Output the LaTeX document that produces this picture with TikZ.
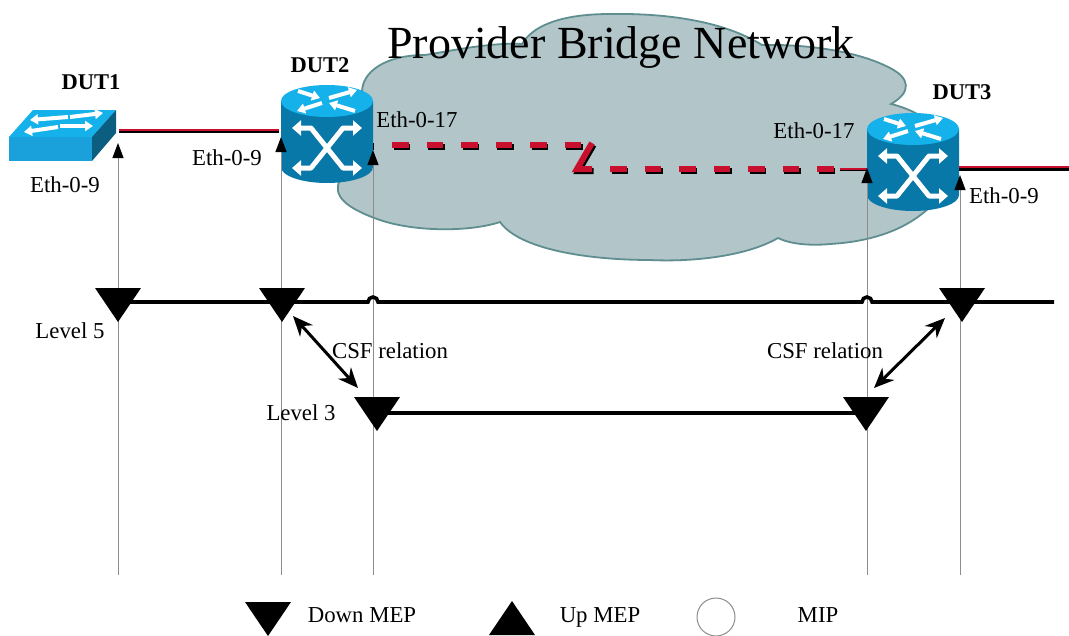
\documentclass[tikz,border=0pt]{standalone}
\usepackage{fontspec}
\setmainfont{Liberation Serif}
\usetikzlibrary{arrows.meta,calc}
\definecolor{cloudfill}{HTML}{B2C5C9}
\definecolor{cloudline}{HTML}{5F8E90}
\definecolor{linkred}{HTML}{C8102E}
\definecolor{devtop}{HTML}{14B1EA}
\definecolor{devface}{HTML}{1AA0DA}
\definecolor{devbody}{HTML}{0878A8}
\definecolor{devside}{HTML}{0B5E80}
\definecolor{vline}{HTML}{8C8C8C}
\tikzset{
  x=1pt,y=-1pt,
  lbl/.style={font=\fontsize{22.8}{26}\selectfont,inner sep=0pt},
  boldlbl/.style={font=\fontsize{22.5}{26}\selectfont\bfseries,inner sep=0pt},
  drop/.style={draw=vline,line width=1pt,-{Triangle[length=15pt,width=11pt,color=black]}},
  linkb/.style={draw=black,line width=3pt},
  linkr/.style={draw=linkred,line width=2.4pt},
  dashb/.style={draw=black,line width=6.5pt,dash pattern=on 16.5pt off 18pt},
  dashr/.style={draw=linkred,line width=6.5pt,dash pattern=on 16.5pt off 18pt},
  level/.style={draw=black,line width=3.6pt},
  csf/.style={draw=black,line width=3pt,{Stealth[length=20pt,width=17pt]}-{Stealth[length=20pt,width=17pt]}},
  wht/.style={draw=white,line width=5pt,-{Triangle[length=9pt,width=15pt]}},
  whts/.style={draw=white,line width=4pt,-{Triangle[length=8pt,width=10pt]}},
  router/.pic={
    \fill[devbody] (-46,0) -- (-46,66) arc[start angle=180,end angle=360,x radius=46pt,y radius=16pt] -- (46,0) -- cycle;
    \fill[devtop] (0,0) ellipse[x radius=46pt,y radius=16pt];
    \draw[whts] (-29,-10) -- (-7,-3);
    \draw[whts] (28,10) -- (2,2);
    \draw[whts] (2,-3) -- (30,-11);
    \draw[whts] (-5,2) -- (-30,10);
    \draw[wht,line join=bevel] (0,47) -- (16,27) -- (35,27);
    \draw[wht,line join=bevel] (0,47) -- (-16,27) -- (-35,27);
    \draw[wht,line join=bevel] (0,47) -- (16,67) -- (35,67);
    \draw[wht,line join=bevel] (0,47) -- (-16,67) -- (-35,67);
  },
  downtri/.pic={\fill[black] (-23,-14) -- (23,-14) -- (0,20) -- cycle;},
  uptri/.pic={\fill[black] (-23,17) -- (23,17) -- (0,-17) -- cycle;},
}
\begin{document}
\begin{tikzpicture}
\useasboundingbox (0,0) rectangle (1069,635);
\fill[white] (0,0) rectangle (1069,635);

% cloud
\draw[fill=cloudfill,draw=cloudline,line width=1.8pt]
  (362,92) .. controls (362,72) and (385,55) .. (425,55)
  .. controls (445,52) and (490,42) .. (522,44)
  .. controls (535,22) and (570,14) .. (610,14)
  .. controls (670,13) and (725,22) .. (762,45)
  .. controls (810,44) and (860,52) .. (890,68)
  .. controls (910,78) and (912,92) .. (891,104)
  .. controls (925,112) and (965,140) .. (950,180)
  .. controls (935,210) and (900,240) .. (830,244)
  .. controls (810,246) and (790,244) .. (778,238)
  .. controls (745,257) and (690,262) .. (650,260)
  .. controls (590,260) and (520,250) .. (500,222)
  .. controls (470,232) and (415,232) .. (380,220)
  .. controls (345,208) and (332,195) .. (340,180)
  .. controls (345,150) and (362,120) .. (362,92) -- cycle;

% device coordinates
\coordinate (t1) at (118,143);
\coordinate (t2) at (281,137);
\coordinate (t3) at (373,150);
\coordinate (t4) at (867,168);
\coordinate (t5) at (960,175);
\coordinate (b1) at (118,575);
\coordinate (b2) at (281,575);
\coordinate (b3) at (373,575);
\coordinate (b4) at (867,575);
\coordinate (b5) at (960,575);

% DUT1 switch
\fill[devface] (9,137) -- (92,137) -- (92,161) -- (9,161) -- cycle;
\fill[devtop] (9,137) -- (33,110) -- (116,110) -- (92,137) -- cycle;
\fill[devside] (92,137) -- (116,110) -- (116,133) -- (92,161) -- cycle;
\draw[whts] (68,117) -- (30,120);
\draw[whts] (70,117) -- (103,113);
\draw[whts] (58,127) -- (24,132);
\draw[whts] (60,126) -- (93,126);

% links
\coordinate (l1a) at (119,131);
\coordinate (l1b) at (279,131);
\draw[linkb] (l1a) -- (l1b);
\draw[linkr] ($(l1a)+(0,-1)$) -- ($(l1b)+(0,-1)$);

\pic at (327,101) {router};
\pic at (913,129) {router};

\coordinate (d1a) at (392,145);
\coordinate (d1b) at (581,145);
\coordinate (z1) at (592,143);
\coordinate (z2) at (577,169);
\coordinate (z3) at (592,169);
\coordinate (d2a) at (610,169);
\coordinate (d2b) at (836,169);
\coordinate (l3a) at (840,169);
\coordinate (l3b) at (867,169);
\coordinate (l4a) at (959,168);
\coordinate (l4b) at (1069,168);

\draw[dashb] ($(d1a)+(1.5,2)$) -- ($(d1b)+(1.5,2)$);
\draw[dashr] (d1a) -- (d1b);
\draw[black,line width=6pt] ($(z1)+(1.5,2)$) -- ($(z2)+(1.5,2)$) -- ($(z3)+(1.5,2)$);
\draw[linkred,line width=6pt] (z1) -- (z2) -- (z3);
\draw[dashb] ($(d2a)+(1.5,2)$) -- ($(d2b)+(1.5,2)$);
\draw[dashr] (d2a) -- (d2b);
\draw[linkb,line width=2pt] ($(l3a)+(0,1)$) -- ($(l3b)+(0,1)$);
\draw[linkr,line width=1.8pt] (l3a) -- (l3b);
\draw[linkb] ($(l4a)+(0,1)$) -- ($(l4b)+(0,1)$);
\draw[linkr] ($(l4a)+(0,-1)$) -- ($(l4b)+(0,-1)$);
\draw[black,line width=1pt] (373,143) -- (373,150);

% drop lines
\draw[drop] (b1) -- (t1);
\draw[drop] (b2) -- (t2);
\draw[drop] (b3) -- (t3);
\draw[drop] (b4) -- (t4);
\draw[drop] (b5) -- (t5);

% levels
\coordinate (m1) at (118,302);
\coordinate (m2) at (282,302);
\coordinate (m3) at (962,302);
\coordinate (m4) at (1054,302);
\coordinate (n1) at (377,413);
\coordinate (n2) at (866,413);
\draw[level] (m1) -- (368,302) arc[start angle=180,end angle=0,radius=5pt] -- (862,302) arc[start angle=180,end angle=0,radius=5pt] -- (m4);
\draw[level] (n1) -- (n2);
\pic at (m1) {downtri};
\pic at (m2) {downtri};
\pic at (m3) {downtri};
\pic at ($(n1)+(0,-2)$) {downtri};
\pic at ($(n2)+(0,-2)$) {downtri};

\coordinate (c1a) at (293,316);
\coordinate (c1b) at (358,388);
\coordinate (c2a) at (874,388);
\coordinate (c2b) at (945,318);
\draw[csf] (c1a) -- (c1b);
\draw[csf] (c2a) -- (c2b);

% labels
\node[font=\fontsize{46}{50}\selectfont,inner sep=0pt] (title) at (621,48) {Provider Bridge Network};
\node[boldlbl] (dut1) at (91,82) {DUT1};
\node[boldlbl] (dut2) at (320,65) {DUT2};
\node[boldlbl] (dut3) at (962,92) {DUT3};
\node[lbl] (e1) at (65,185) {Eth-0-9};
\node[lbl] (e2) at (227,158) {Eth-0-9};
\node[lbl] (e3) at (417,120) {Eth-0-17};
\node[lbl] (e4) at (814,131) {Eth-0-17};
\node[lbl] (e5) at (1004,196) {Eth-0-9};
\node[lbl] (lv5) at (70,331) {Level 5};
\node[lbl] (lv3) at (301,413) {Level 3};
\node[lbl] (cs1) at (390,351) {CSF relation};
\node[lbl] (cs2) at (825,351) {CSF relation};

% legend
\pic at (268,616) {downtri};
\pic at (512,618) {uptri};
\begin{scope}
\clip (690,590) rectangle (745,635);
\draw[vline,line width=1pt,fill=white] (716,617) circle[radius=19pt];
\end{scope}
\node[lbl] (ld) at (362,615) {Down MEP};
\node[lbl] (lu) at (600,617) {Up MEP};
\node[lbl] (lm) at (818,615) {MIP};
\end{tikzpicture}
\end{document}
